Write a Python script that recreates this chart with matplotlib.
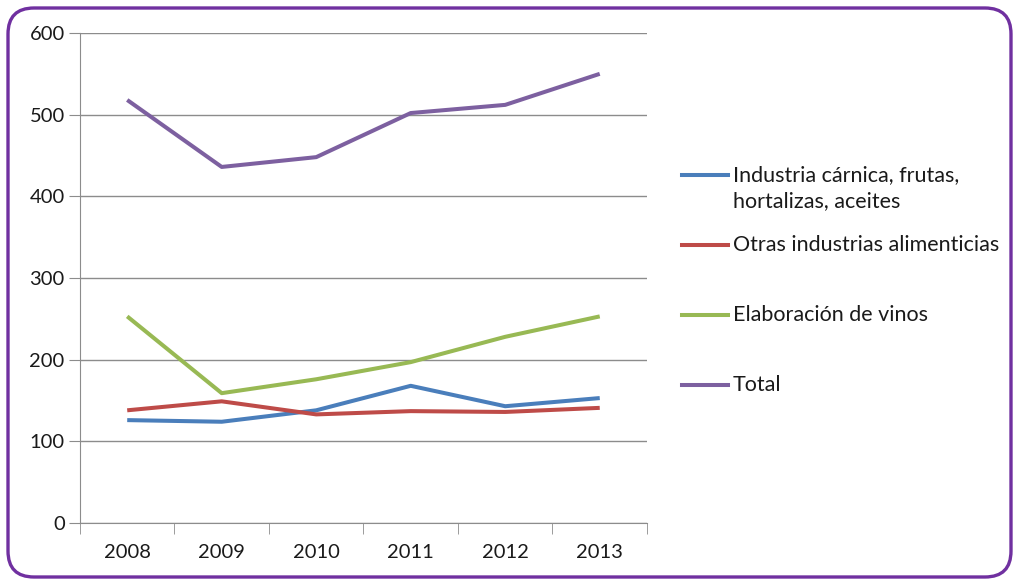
#!/usr/bin/env python3
# -*- coding: utf-8 -*-

import matplotlib
matplotlib.use("Agg")
import matplotlib.pyplot as plt
from matplotlib.patches import FancyBboxPatch
from matplotlib.lines import Line2D
from matplotlib.transforms import IdentityTransform

# DATA ########################################################################

years = ["2008", "2009", "2010", "2011", "2012", "2013"]

carnica = [126, 124, 138, 168, 143, 153]
otras = [138, 149, 133, 137, 136, 141]
vinos = [253, 159, 176, 197, 228, 253]
total = [518, 436, 448, 502, 512, 550]

labels = ["Industria cárnica, frutas,\nhortalizas, aceites",
          "Otras industrias alimenticias",
          "Elaboración de vinos",
          "Total"]
colors = ["#4A7EBB", "#BE4B48", "#98B954", "#7D60A0"]

# PLOT ########################################################################

plt.rcParams['font.family'] = ['Lato', 'DejaVu Sans']

fig = plt.figure(figsize=(10.16, 5.81), dpi=100)
ax = fig.add_axes([0.0787, 0.0998, 0.5581, 0.8434])

x = range(len(years))
for values, color in zip([carnica, otras, vinos, total], colors):
    ax.plot(x, values, color=color, linewidth=2.9, solid_capstyle='butt')

grid_color = '#8C8C8C'
text_color = '#1A1A1A'
ax.set_xlim(-0.5, len(years) - 0.5)
ax.set_ylim(0, 600)
ax.set_yticks(range(0, 601, 100))
ax.yaxis.grid(True, color=grid_color, linewidth=1)
ax.set_axisbelow(True)

ax.set_xticks(x)
ax.set_xticklabels(years)
ax.set_xticks([i - 0.5 for i in range(len(years) + 1)], minor=True)
ax.tick_params(axis='x', which='major', length=0, pad=15, labelsize=14.5)
ax.tick_params(axis='x', which='minor', length=8, color=grid_color, direction='out')
ax.tick_params(axis='y', length=8, color=grid_color, pad=3, labelsize=14.5)
for lbl in ax.get_xticklabels() + ax.get_yticklabels():
    lbl.set_color(text_color)

for side in ['top', 'right']:
    ax.spines[side].set_visible(False)
ax.spines['left'].set_color(grid_color)
ax.spines['bottom'].set_color(grid_color)

# Legend drawn by hand (Excel style spacing) #####
rows_y = [175, 245, 315, 385]  # pixel rows from top
for label, color, ry in zip(labels, colors, rows_y):
    fy = 1 - ry / 581.0
    fig.add_artist(Line2D([682 / 1016.0, 728 / 1016.0], [fy, fy], color=color,
                          linewidth=2.9, transform=fig.transFigure))
    if '\n' in label:
        fig.text(733 / 1016.0, 1 - (ry - 10) / 581.0, label, fontsize=15.5,
                 color=text_color, va='top', ha='left', linespacing=1.4)
    else:
        fig.text(733 / 1016.0, fy, label, fontsize=15.5, color=text_color,
                 va='center', ha='left')

# Rounded purple border #####
border = FancyBboxPatch((8, 4), 1003, 569,
                        boxstyle="round,pad=0,rounding_size=26",
                        transform=IdentityTransform(),
                        facecolor='none', edgecolor='#7030A0', linewidth=2.4)
fig.patches.append(border)

plt.savefig("out.png", dpi=100)
